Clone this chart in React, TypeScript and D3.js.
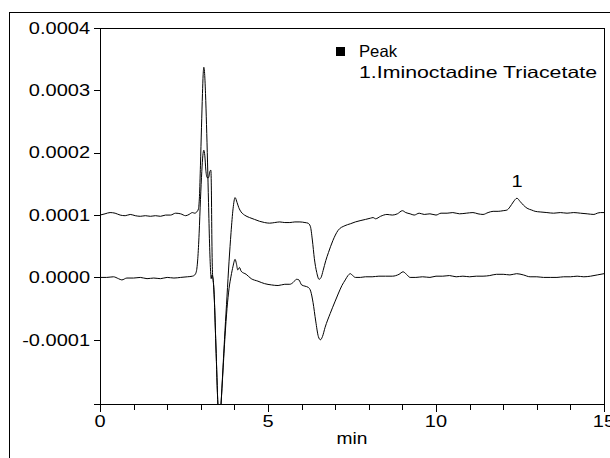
import React from 'react';
import * as d3 from 'd3';

// Signal values are in units of 0.0001 (as on the y axis)
const traceA: [number, number][] = [
  [0, 1.0], [0.15, 1.02], [0.3, 1.04], [0.45, 1.03], [0.6, 1.0], [0.75, 0.99], [0.9, 1.01], [1.05, 0.99],
  [1.2, 0.98], [1.35, 0.99], [1.5, 0.98], [1.65, 0.99], [1.8, 0.98], [1.95, 1.0], [2.1, 1.0], [2.25, 1.03],
  [2.4, 1.02], [2.55, 0.99], [2.65, 1.01], [2.75, 1.04], [2.82, 1.03], [2.88, 1.05], [2.93, 1.1], [2.96, 1.3],
  [2.99, 1.8], [3.02, 2.4], [3.05, 2.95], [3.07, 3.25], [3.09, 3.37], [3.11, 3.3], [3.14, 2.95], [3.17, 2.45],
  [3.2, 1.85], [3.23, 1.2], [3.26, 0.55], [3.29, 0.12], [3.31, -0.02], [3.33, 0.04], [3.35, 0.02], [3.39, -0.2],
  [3.45, -1.1], [3.51, -2.05], [3.555, -2.4], [3.6, -2.05], [3.66, -1.45], [3.72, -0.85], [3.78, -0.3],
  [3.84, 0.25], [3.9, 0.72], [3.96, 1.1], [4.02, 1.28], [4.08, 1.2], [4.13, 1.12], [4.2, 1.05], [4.3, 1.0],
  [4.45, 0.96], [4.6, 0.93], [4.75, 0.9], [4.9, 0.88], [5.05, 0.87], [5.2, 0.88], [5.35, 0.89], [5.5, 0.88],
  [5.65, 0.88], [5.8, 0.89], [5.95, 0.89], [6.1, 0.88], [6.19, 0.87], [6.26, 0.82], [6.32, 0.6], [6.38, 0.3],
  [6.45, 0.08], [6.52, -0.03], [6.58, 0.0], [6.64, 0.11], [6.72, 0.27], [6.8, 0.4], [6.93, 0.59], [7.08, 0.75],
  [7.29, 0.83], [7.45, 0.86], [7.6, 0.89], [7.74, 0.91], [7.9, 0.93], [8.05, 0.95], [8.13, 0.96], [8.2, 0.94],
  [8.35, 0.98], [8.54, 1.01], [8.7, 1.0], [8.85, 1.02], [9.0, 1.07], [9.1, 1.04], [9.23, 1.02], [9.35, 1.0],
  [9.5, 1.03], [9.65, 1.01], [9.82, 1.02], [10.0, 1.0], [10.15, 1.03], [10.33, 1.03], [10.5, 1.04], [10.7, 1.02],
  [10.9, 1.03], [11.1, 1.04], [11.25, 1.02], [11.4, 1.01], [11.55, 1.04], [11.7, 1.06], [11.85, 1.06], [12.0, 1.07],
  [12.11, 1.08], [12.2, 1.13], [12.3, 1.21], [12.41, 1.27], [12.5, 1.22], [12.6, 1.16], [12.71, 1.11], [12.85, 1.08],
  [12.95, 1.06], [13.1, 1.05], [13.3, 1.04], [13.5, 1.03], [13.7, 1.04], [13.9, 1.03], [14.1, 1.04], [14.3, 1.03],
  [14.5, 1.02], [14.7, 1.01], [14.8, 1.03], [14.9, 1.04], [15.0, 1.04],
];

const traceB: [number, number][] = [
  [0, 0.0], [0.2, 0.0], [0.4, 0.01], [0.55, -0.02], [0.65, -0.04], [0.8, -0.01], [1.0, -0.01], [1.2, 0.0],
  [1.4, -0.02], [1.6, -0.01], [1.8, -0.02], [2.0, 0.0], [2.2, -0.01], [2.4, 0.0], [2.6, 0.01], [2.75, 0.02],
  [2.82, 0.04], [2.87, 0.1], [2.91, 0.3], [2.95, 0.7], [2.99, 1.25], [3.03, 1.7], [3.06, 1.95], [3.09, 2.04],
  [3.12, 1.95], [3.15, 1.72], [3.19, 1.6], [3.23, 1.6], [3.27, 1.7], [3.3, 1.72], [3.315, 1.4], [3.33, 0.6],
  [3.35, 0.05], [3.37, -0.05], [3.39, -0.2], [3.45, -1.1], [3.51, -2.05], [3.555, -2.4], [3.6, -2.05],
  [3.66, -1.5], [3.72, -0.95], [3.78, -0.5], [3.84, -0.18], [3.9, 0.02], [3.96, 0.18], [4.02, 0.29], [4.06, 0.22],
  [4.1, 0.12], [4.15, 0.16], [4.2, 0.1], [4.35, 0.05], [4.5, -0.02], [4.7, -0.06], [4.9, -0.1], [5.1, -0.12],
  [5.3, -0.13], [5.5, -0.11], [5.65, -0.11], [5.75, -0.08], [5.85, -0.03], [5.92, -0.04], [6.0, -0.12],
  [6.1, -0.14], [6.2, -0.16], [6.27, -0.22], [6.34, -0.4], [6.42, -0.7], [6.5, -0.95], [6.56, -1.0], [6.62, -0.95],
  [6.7, -0.8], [6.85, -0.58], [7.0, -0.38], [7.1, -0.25], [7.2, -0.13], [7.3, -0.04], [7.38, 0.03], [7.45, 0.06],
  [7.52, 0.03], [7.6, 0.0], [7.75, 0.0], [7.9, 0.01], [8.1, 0.01], [8.3, 0.02], [8.5, 0.02], [8.7, 0.02],
  [8.9, 0.05], [9.02, 0.09], [9.12, 0.05], [9.23, 0.0], [9.4, 0.0], [9.6, 0.01], [9.82, 0.0], [10.0, 0.02],
  [10.2, 0.02], [10.4, 0.03], [10.6, 0.01], [10.8, 0.02], [11.0, 0.01], [11.2, 0.02], [11.4, 0.02], [11.6, 0.03],
  [11.8, 0.05], [12.0, 0.05], [12.2, 0.04], [12.4, 0.06], [12.6, 0.04], [12.8, 0.01], [13.0, 0.01], [13.2, 0.0],
  [13.4, 0.0], [13.6, 0.0], [13.8, 0.01], [14.0, 0.01], [14.2, 0.02], [14.4, 0.01], [14.6, 0.02], [14.8, 0.04],
  [15.0, 0.06],
];

const yTickValues = [4, 3, 2, 1, 0, -1];
const yTickLabels = ['0.0004', '0.0003', '0.0002', '0.0001', '0.0000', '-0.0001'];
const xMajorTicks = [0, 5, 10, 15];
const xMinorTicks = [1, 2, 3, 4, 6, 7, 8, 9, 11, 12, 13, 14];
const xAxisTitle = 'min';
const legendTitle = 'Peak';
const legendItems = ['1.Iminoctadine Triacetate'];
const peakLabels: { t: number; v: number; text: string }[] = [{ t: 12.41, v: 1.27, text: '1' }];

const FONT = '"Liberation Sans", Arial, Helvetica, sans-serif';

export default function App() {
  const W = 610;
  const H = 458;
  const left = 100, right = 604, top = 28, bottom = 404;
  const x = d3.scaleLinear().domain([0, 15]).range([left, right]);
  const y = d3.scaleLinear().domain([-2.03, 4]).range([bottom, top]);
  const line = d3
    .line<[number, number]>()
    .x((d) => x(d[0]))
    .y((d) => y(d[1]))
    .curve(d3.curveMonotoneX);

  const sx = 1.25;

  return (
    <svg
      width={W}
      height={H}
      style={{ position: 'absolute', left: 0, top: 0, background: '#fff' }}
      fontFamily={FONT}
    >
      <rect x={0} y={0} width={W} height={H} fill="#fff" />
      {/* outer frame */}
      <rect x={9.5} y={12.5} width={640} height={480} fill="none" stroke="#000" strokeWidth={1} />
      <defs>
        <clipPath id="plotClip">
          <rect x={left} y={top} width={right - left} height={bottom - top} />
        </clipPath>
      </defs>
      {/* traces */}
      <g clipPath="url(#plotClip)" fill="none" stroke="#000" strokeWidth={1} strokeLinejoin="round">
        <path d={line(traceA) || ''} />
        <path d={line(traceB) || ''} />
      </g>
      {/* plot box */}
      <rect x={left + 0.5} y={top + 0.5} width={right - left} height={bottom - top} fill="none" stroke="#000" strokeWidth={1} />
      {/* y axis ticks */}
      {yTickValues.map((v, i) => (
        <g key={'y' + v}>
          <line x1={left - 6} x2={left} y1={Math.round(y(v)) + 0.5} y2={Math.round(y(v)) + 0.5} stroke="#000" />
          <text
            transform={`translate(${left - 10},${y(v)}) scale(${sx},1)`}
            textAnchor="end"
            dy="0.36em"
            fontSize={16}
            fill="#000"
          >
            {yTickLabels[i]}
          </text>
        </g>
      ))}
      <line x1={left - 6} x2={left} y1={bottom + 0.5} y2={bottom + 0.5} stroke="#000" />
      {/* x axis ticks */}
      {xMajorTicks.map((t) => (
        <g key={'xm' + t}>
          <line x1={Math.round(x(t)) + 0.5} x2={Math.round(x(t)) + 0.5} y1={bottom} y2={bottom + 8} stroke="#000" />
          <text
            transform={`translate(${x(t)},${bottom + 23}) scale(${sx},1)`}
            textAnchor="middle"
            fontSize={16}
            fill="#000"
          >
            {t}
          </text>
        </g>
      ))}
      {xMinorTicks.map((t) => (
        <line key={'xn' + t} x1={Math.round(x(t)) + 0.5} x2={Math.round(x(t)) + 0.5} y1={bottom} y2={bottom + 6} stroke="#000" />
      ))}
      <text
        transform={`translate(${x(7.5)},${bottom + 40}) scale(1.2,1)`}
        textAnchor="middle"
        fontSize={16}
        fill="#000"
      >
        {xAxisTitle}
      </text>
      {/* peak labels */}
      {peakLabels.map((p) => (
        <text
          key={p.text}
          transform={`translate(${x(p.t)},${y(p.v) - 11}) scale(${sx},1)`}
          textAnchor="middle"
          fontSize={16}
          fill="#000"
        >
          {p.text}
        </text>
      ))}
      {/* legend */}
      <rect x={336} y={47} width={9} height={9} fill="#000" />
      <text x={359} y={56.5} fontSize={16.5} fill="#000" textLength={38} lengthAdjust="spacingAndGlyphs">
        {legendTitle}
      </text>
      {legendItems.map((s, i) => (
        <text key={s} x={359} y={78 + i * 21} fontSize={16.5} fill="#000" textLength={238} lengthAdjust="spacingAndGlyphs">
          {s}
        </text>
      ))}
    </svg>
  );
}
